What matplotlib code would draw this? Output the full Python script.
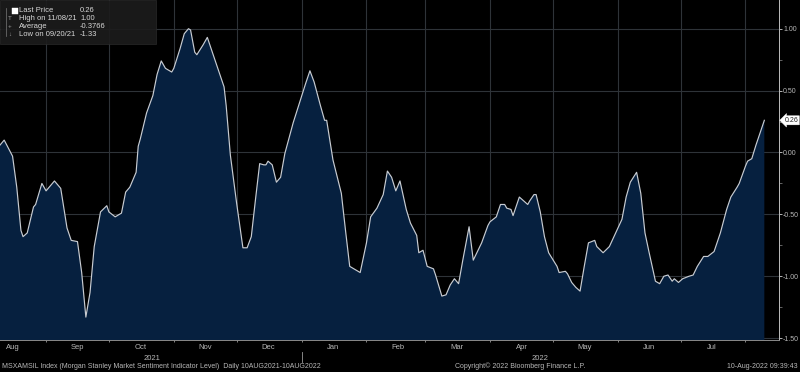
import datetime as dt

import matplotlib
matplotlib.use("Agg")
import matplotlib.pyplot as plt
import matplotlib.dates as mdates
from matplotlib.patches import Rectangle

plt.rcParams["font.family"] = ["Liberation Sans", "DejaVu Sans"]

# ----- data -----------------------------------------------------------
START = dt.date(2021, 8, 10)
DAY_OFFSET = [
    0, 2, 6, 8, 10, 11, 13, 16, 17, 20, 22, 24, 26, 29, 32, 34, 37, 39, 41, 43,
    45, 48, 51, 52, 55, 58, 60, 62, 65, 66, 67, 69, 70, 73, 75, 77, 79, 82, 83, 86,
    88, 90, 91, 93, 94, 97, 99, 100, 103, 105, 107, 108, 109, 110, 113, 116, 118, 120,
    122, 124, 126, 127, 128, 130, 132, 134, 136, 140, 143, 146, 148, 150, 153, 155,
    156, 159, 163, 165, 167, 170, 172, 175, 177, 180, 183, 185, 187, 189, 191, 194,
    196, 199, 200, 202, 204, 207, 208, 211, 213, 215, 217, 219, 221, 224, 226, 230,
    233, 234, 237, 239, 241, 242, 244, 245, 248, 250, 252, 253, 255, 256, 258, 260,
    262, 266, 267, 270, 271, 273, 275, 277, 279, 281, 284, 285, 288, 291, 294, 297,
    299, 301, 304, 306, 308, 310, 313, 315, 317, 319, 321, 322, 324, 326, 329, 331,
    333, 336, 338, 341, 344, 347, 349, 352, 353, 356, 357, 359, 361, 365,
]
LEVEL = [
    0.06, 0.10, -0.03, -0.28, -0.63, -0.68, -0.65, -0.44, -0.42, -0.25, -0.31, -0.27,
    -0.23, -0.29, -0.61, -0.71, -0.72, -0.97, -1.33, -1.13, -0.76, -0.48, -0.43, -0.48,
    -0.52, -0.49, -0.32, -0.28, -0.16, 0.05, 0.11, 0.25, 0.32, 0.46, 0.63, 0.74, 0.68,
    0.65, 0.68, 0.84, 0.96, 1.00, 0.99, 0.81, 0.79, 0.87, 0.93, 0.88, 0.73, 0.63, 0.53,
    0.38, 0.18, -0.02, -0.41, -0.77, -0.77, -0.68,
    -0.38, -0.09, -0.10, -0.10, -0.07, -0.10, -0.24, -0.20, -0.01, 0.24, 0.40, 0.56,
    0.66, 0.57, 0.38, 0.26, 0.26, -0.06, -0.33, -0.63, -0.92, -0.95, -0.97, -0.73,
    -0.52, -0.45, -0.34, -0.15, -0.20, -0.31, -0.23, -0.46, -0.57, -0.67, -0.81, -0.79,
    -0.92, -0.94, -0.99, -1.16, -1.15, -1.07, -1.02, -1.06, -0.87, -0.60, -0.87, -0.73,
    -0.59, -0.56, -0.52, -0.42, -0.42, -0.45, -0.46, -0.51, -0.36, -0.39, -0.42, -0.39,
    -0.34, -0.34, -0.48, -0.68, -0.81, -0.92, -0.97, -0.96, -0.98, -1.05, -1.09, -1.12,
    -0.92, -0.73, -0.71, -0.76, -0.81, -0.76, -0.65, -0.54, -0.36, -0.24, -0.16, -0.33,
    -0.65, -0.81, -1.04, -1.06, -1.00, -0.99, -1.04, -1.02, -1.05, -1.02, -1.00, -0.99,
    -0.92, -0.84, -0.84, -0.80, -0.65, -0.46, -0.36, -0.28, -0.25, -0.11, -0.07, -0.05,
    0.06, 0.26,
]
LEGEND_ROWS = [
    ("Last Price", "0.26"),
    ("High on 11/08/21", "1.00"),
    ("Average", "-0.3766"),
    ("Low on 09/20/21", "-1.33"),
]
Y_TICKS = [-1.5, -1.0, -0.5, 0.0, 0.5, 1.0]
MONTH_LABELS = ["Aug", "Sep", "Oct", "Nov", "Dec", "Jan",
                "Feb", "Mar", "Apr", "May", "Jun", "Jul"]
FOOTER_LEFT = ("MSXAMSIL Index (Morgan Stanley Market Sentiment Indicator Level)  "
               "Daily 10AUG2021-10AUG2022")
FOOTER_MID = "Copyright\u00a9 2022 Bloomberg Finance L.P."
FOOTER_RIGHT = "10-Aug-2022 09:39:43"

dates = [START + dt.timedelta(days=d) for d in DAY_OFFSET]
# mid-month label positions, Aug 2021 .. Jul 2022
mid_month = [dt.date(2021 + (7 + i) // 12, (7 + i) % 12 + 1, 16) for i in range(12)]

W, H = 800, 372
fig = plt.figure(figsize=(W / 100, H / 100), dpi=100, facecolor="black")


def fx(x):
    return x / W


def fy(y):
    return 1 - y / H


ax = fig.add_axes([0, fy(340), fx(779), fy(0) - fy(340)], facecolor="black")

ax.fill_between(dates, LEVEL, -3, color="#06203f", lw=0, zorder=2)
ax.plot(dates, LEVEL, color="#c8ccd2", lw=0.85, zorder=3)

ax.set_xlim(START - dt.timedelta(days=0.2), START + dt.timedelta(days=372.7))
ax.set_ylim(-1.515, 1.232)

# grid at month boundaries and 0.5 steps
ax.xaxis.set_major_locator(mdates.MonthLocator())
ax.xaxis.set_major_formatter(plt.NullFormatter())
ax.set_xticks(mid_month, minor=True)
ax.set_xticklabels(MONTH_LABELS, minor=True)
ax.grid(True, which="major", axis="x", color="#2e3338", lw=0.8, zorder=1)
ax.grid(True, which="major", axis="y", color="#2e3338", lw=0.8, zorder=1)

ax.yaxis.tick_right()
ax.set_yticks(Y_TICKS)
ax.set_yticklabels([f"{v:.2f}" for v in Y_TICKS])
ax.set_yticks([-1.25, -0.75, -0.25, 0.25, 0.75], minor=True)

ax.tick_params(axis="x", which="major", colors="#9a9a9a", length=3, direction="inout", width=0.6)
ax.tick_params(axis="x", which="minor", length=0, labelsize=5.5, labelcolor="#b8b8b8", pad=3)
ax.tick_params(axis="y", which="major", colors="#cfcfcf", length=2.5, width=0.6,
               labelsize=5, labelcolor="#b8b8b8", pad=0.5)
ax.tick_params(axis="y", which="minor", colors="#8a8a8a", length=2, width=0.5)

for side in ["top", "left"]:
    ax.spines[side].set_visible(False)
ax.spines["right"].set_color("#bdbdbd")
ax.spines["right"].set_linewidth(0.7)
ax.spines["bottom"].set_color("#8a8a8a")
ax.spines["bottom"].set_linewidth(0.7)

# last price tag
ax.annotate("0.26", xy=(1.0, LEVEL[-1]), xycoords=("axes fraction", "data"),
            xytext=(4, 0), textcoords="offset points", ha="left", va="center",
            fontsize=5, color="#222222",
            bbox=dict(boxstyle="larrow,pad=0.15", fc="white", ec="white", lw=0.3))

# year labels + separator
fig.text(fx(152), fy(358), "2021", ha="center", va="center", fontsize=5.5, color="#b8b8b8")
fig.text(fx(540), fy(358), "2022", ha="center", va="center", fontsize=5.5, color="#b8b8b8")
fig.add_artist(plt.Line2D([fx(302), fx(302)], [fy(352), fy(362)], color="#9a9a9a", lw=0.6))

# footer
fig.text(fx(2), fy(366), FOOTER_LEFT, ha="left", va="center", fontsize=5, color="#b8b8b8")
fig.text(fx(455), fy(366), FOOTER_MID, ha="left", va="center", fontsize=5, color="#b8b8b8")
fig.text(fx(798), fy(366), FOOTER_RIGHT, ha="right", va="center", fontsize=5, color="#b8b8b8")

# legend box
fig.add_artist(Rectangle((fx(0), fy(44)), fx(156), fy(0) - fy(44), transform=fig.transFigure,
                         fc="#1c1c1c", ec="#2c2c2c", lw=0.5, alpha=0.92, zorder=5))
row_y = [10, 18, 26, 34]
symbols = ["", "T", "+", "\u2193"]
for (label, val), yy, sym in zip(LEGEND_ROWS, row_y, symbols):
    fig.text(fx(19), fy(yy), label, ha="left", va="center", fontsize=5.5,
             color="#d8d8d8", zorder=6)
    fig.text(fx(80), fy(yy), val, ha="left", va="center", fontsize=5.5,
             color="#d8d8d8", zorder=6)
    if sym:
        fig.text(fx(10), fy(yy), sym, ha="center", va="center", fontsize=4.5,
                 color="#9a9a9a", zorder=6)
fig.add_artist(Rectangle((fx(12), fy(14)), fx(6), fy(8) - fy(14), transform=fig.transFigure,
                         fc="white", ec="white", lw=0.3, zorder=6))
fig.add_artist(plt.Line2D([fx(6), fx(6)], [fy(8), fy(36)], color="#7a7a7a", lw=0.5, zorder=6))

fig.savefig("out.png", dpi=100, facecolor="black")
